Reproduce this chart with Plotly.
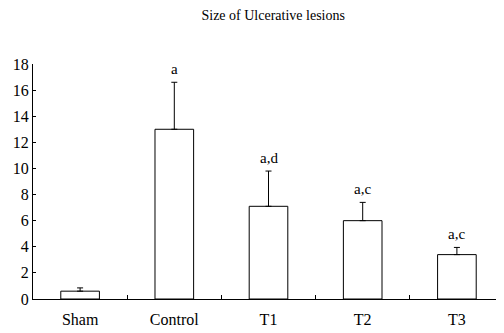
import plotly.graph_objects as go

categories = ["Sham", "Control", "T1", "T2", "T3"]
means = [0.6, 13.0, 7.1, 6.0, 3.4]
errors = [0.25, 3.6, 2.7, 1.4, 0.55]
labels = ["", "a", "a,d", "a,c", "a,c"]
y_ticks = [0, 2, 4, 6, 8, 10, 12, 14, 16, 18]

FONT = "Liberation Serif"

# The page body has an 8px default margin, so the figure is sized to fit.
W, H = 496, 325

fig = go.Figure()
fig.add_trace(go.Bar(
    x=categories, y=means,
    width=0.41,
    marker=dict(color="white", line=dict(color="black", width=1)),
    error_y=dict(type="data", symmetric=False, array=errors,
                 arrayminus=[0] * len(errors),
                 color="black", thickness=1, width=3),
    showlegend=False,
))

for c, m, e, t in zip(categories, means, errors, labels):
    if t:
        fig.add_annotation(x=c, y=m + e, text=t, showarrow=False,
                           yanchor="bottom", yshift=3,
                           font=dict(family=FONT, size=15, color="black"))

fig.update_layout(
    width=W, height=H,
    margin=dict(l=25, r=0, t=56, b=34, autoexpand=False),
    paper_bgcolor="white", plot_bgcolor="white",
    font=dict(family=FONT, size=16, color="black"),
    title=dict(text="Size of Ulcerative lesions", x=0.51, xanchor="center",
               xref="paper", yref="container", y=1 - 7 / H, yanchor="middle",
               font=dict(family=FONT, size=14, color="black")),
    bargap=0.59,
)
fig.update_xaxes(
    showline=True, linecolor="black", linewidth=1, automargin=False,
    ticks="inside", tickson="boundaries", ticklen=4, tickcolor="black",
    showgrid=False, zeroline=False, ticklabelstandoff=6,
)
fig.update_yaxes(
    range=[0, 18], tickvals=y_ticks, automargin=False,
    showline=True, linecolor="black", linewidth=1,
    ticks="inside", ticklen=3, tickcolor="black",
    showgrid=False, zeroline=False, ticklabelstandoff=0,
)

fig.write_html("out.html")
